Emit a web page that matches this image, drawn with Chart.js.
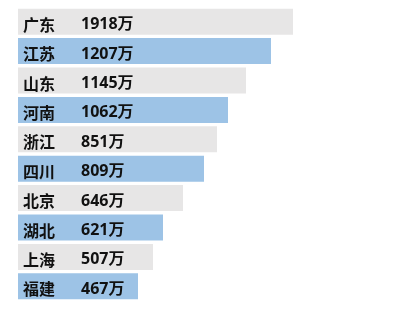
<!DOCTYPE html>
<html>
<head>
<meta charset="utf-8">
<script src="https://cdn.jsdelivr.net/npm/chart.js@4/dist/chart.umd.min.js"></script>
<style>
  html, body { margin: 0; padding: 0; background: #fff; }
  #wrap { width: 408px; height: 310px; position: relative; }
</style>
</head>
<body>
<div id="wrap"><canvas id="c"></canvas></div>
<script>
// Provinces with their headline figure (万) and the drawn bar length (relative units).
const provinces = ["广东", "江苏", "山东", "河南", "浙江", "四川", "北京", "湖北", "上海", "福建"];
const amounts = [1918, 1207, 1145, 1062, 851, 809, 646, 621, 507, 467];
const barLength = [275, 253, 228, 210, 199, 186, 165, 145, 135, 120];

const GRAY = "#e7e6e6";
const BLUE = "#9dc3e6";

// Writes the name and the figure inside each bar.
const inBarLabels = {
  id: "inBarLabels",
  afterDatasetsDraw(chart) {
    const { ctx, chartArea, scales } = chart;
    ctx.save();
    ctx.fillStyle = "#111";
    ctx.textBaseline = "middle";
    ctx.textAlign = "left";
    provinces.forEach((name, i) => {
      const y = scales.y.getPixelForValue(i) + 3;
      ctx.font = "bold 16px 'Noto Sans CJK SC'";
      ctx.fillText(name, chartArea.left + 5, y);
      ctx.font = "bold 16px 'Open Sans', 'Noto Sans CJK SC'";
      ctx.fillText(amounts[i] + "万", chartArea.left + 63, y);
    });
    ctx.restore();
  },
};

new Chart(document.getElementById("c"), {
  type: "bar",
  data: {
    labels: provinces,
    datasets: [{
      data: barLength,
      backgroundColor: provinces.map((_, i) => (i % 2 ? BLUE : GRAY)),
      borderWidth: 0,
      barPercentage: 1,
      categoryPercentage: 0.885,
    }],
  },
  options: {
    indexAxis: "y",
    responsive: true,
    maintainAspectRatio: false,
    animation: false,
    layout: { padding: { left: 18, right: 0, top: 7, bottom: 9 } },
    plugins: { legend: { display: false }, tooltip: { enabled: false } },
    scales: {
      x: { display: false, min: 0, max: 390 },
      y: { display: false },
    },
  },
  plugins: [inBarLabels],
});
</script>
</body>
</html>
